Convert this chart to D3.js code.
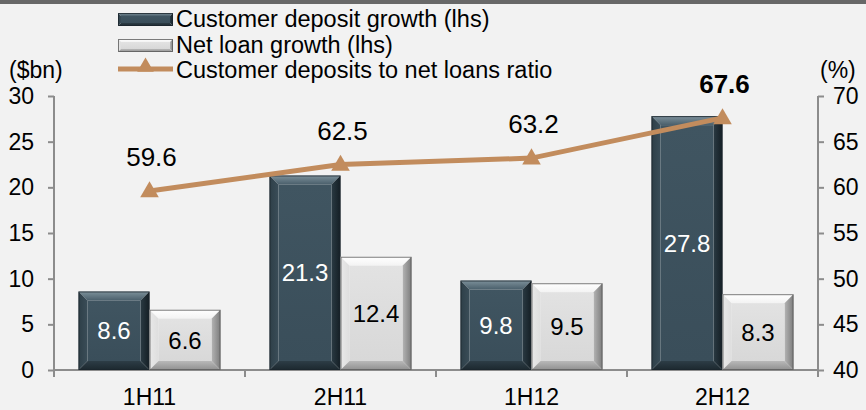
<!DOCTYPE html>
<html><head><meta charset="utf-8">
<script src="https://cdn.jsdelivr.net/npm/d3@7"></script>
<style>
html,body{margin:0;padding:0;background:#f2f2f2;}
svg{display:block;font-family:"Liberation Sans",Arial,sans-serif;}
</style></head>
<body><svg id="c" width="866" height="410"></svg>
<script>
const categories = ["1H11","2H11","1H12","2H12"];
const seriesNames = ["Customer deposit growth (lhs)","Net loan growth (lhs)"];
const depositGrowth = [8.6, 21.3, 9.8, 27.8];
const loanGrowth = [6.6, 12.4, 9.5, 8.3];
const ratio = [59.6, 62.5, 63.2, 67.6];
const lineName = "Customer deposits to net loans ratio";
const leftTicks = [0,5,10,15,20,25,30];
const rightTicks = [40,45,50,55,60,65,70];

const svg = d3.select("#c");
svg.append("rect").attr("width",866).attr("height",410).attr("fill","#f2f2f2");
svg.append("rect").attr("width",866).attr("height",4).attr("fill","#686868");

const L=54, R=818, T=96, B=370;
const x0 = d3.scaleBand().domain(categories).range([L,R]).paddingInner(0).paddingOuter(0);
const x1 = d3.scaleBand().domain([0,1]).range([0,x0.bandwidth()]).paddingInner(0).paddingOuter(0.345);
const yL = d3.scaleLinear().domain([0,30]).range([B,T]);
const yR = d3.scaleLinear().domain([40,70]).range([B,T]);

const defs = svg.append("defs");
function grad(id, stops, vertical=true){
  const g = defs.append("linearGradient").attr("id",id)
    .attr("x1",0).attr("y1",0).attr("x2",vertical?0:1).attr("y2",vertical?1:0);
  stops.forEach(([o,c])=>g.append("stop").attr("offset",o).attr("stop-color",c));
}
grad("dTop",[[0,"#7d919b"],[1,"#4a5f6b"]]);
grad("dFace",[[0,"#405561"],[1,"#3a4e5a"]]);
grad("dLeft",[[0,"#2e3f48"],[1,"#3a4d58"]],false);
grad("dRight",[[0,"#2a3a43"],[1,"#141e24"]],false);
grad("dBot",[[0,"#2d3d46"],[1,"#1c282f"]]);
grad("lTop",[[0,"#ffffff"],[1,"#f3f3f3"]]);
grad("lFace",[[0,"#e2e2e2"],[1,"#d8d8d8"]]);
grad("lLeft",[[0,"#e9e9e9"],[1,"#dedede"]],false);
grad("lRight",[[0,"#b4b4b4"],[1,"#7c7c7c"]],false);
grad("lBot",[[0,"#b8b8b8"],[1,"#909090"]]);

const styles = [
  {top:"url(#dTop)",face:"url(#dFace)",left:"url(#dLeft)",right:"url(#dRight)",bot:"url(#dBot)",stroke:"#1b262d",text:"#ffffff"},
  {top:"url(#lTop)",face:"url(#lFace)",left:"url(#lLeft)",right:"url(#lRight)",bot:"url(#lBot)",stroke:"#5a5a5a",text:"#000000"}
];

function bevelBar(g, xa, xb, ya, yb, b, st){
  const pts = a=>a.map(p=>p.join(",")).join(" ");
  g.append("polygon").attr("points",pts([[xa,ya],[xb,ya],[xb-b,ya+b],[xa+b,ya+b]])).attr("fill",st.top);
  g.append("polygon").attr("points",pts([[xa,ya],[xa+b,ya+b],[xa+b,yb-b],[xa,yb]])).attr("fill",st.left);
  g.append("polygon").attr("points",pts([[xb,ya],[xb,yb],[xb-b,yb-b],[xb-b,ya+b]])).attr("fill",st.right);
  g.append("polygon").attr("points",pts([[xa,yb],[xa+b,yb-b],[xb-b,yb-b],[xb,yb]])).attr("fill",st.bot);
  g.append("rect").attr("x",xa+b).attr("y",ya+b).attr("width",Math.max(0,xb-xa-2*b)).attr("height",Math.max(0,yb-ya-2*b)).attr("fill",st.face);
  g.append("rect").attr("x",xa+0.5).attr("y",ya+0.5).attr("width",xb-xa-1).attr("height",yb-ya-1)
    .attr("fill","none").attr("stroke",st.stroke).attr("stroke-width",1).attr("stroke-opacity",0.8);
}

// axes
const axisColor = "#8c8c8c";
const gl = svg.append("g").attr("transform",`translate(${L},0)`)
  .call(d3.axisLeft(yL).tickValues(leftTicks).tickSize(6).tickPadding(14).tickFormat(d3.format("d")));
const gr = svg.append("g").attr("transform",`translate(${R},0)`)
  .call(d3.axisRight(yR).tickValues(rightTicks).tickSize(6).tickPadding(9).tickFormat(d3.format("d")));
const gb = svg.append("g").attr("transform",`translate(0,${B})`)
  .call(d3.axisBottom(x0).tickSize(0).tickPadding(19));
[gl,gr,gb].forEach(g=>{
  g.select(".domain").attr("stroke",axisColor).attr("stroke-width",2);
  g.selectAll(".tick line").attr("stroke",axisColor).attr("stroke-width",2);
  g.selectAll("text").attr("fill","#000").attr("font-size",23).attr("font-family","Liberation Sans, Arial, sans-serif");
});
gl.select(".domain").attr("d",`M0,${T}V${B}`);
gr.select(".domain").attr("d",`M0,${T}V${B}`);
gb.select(".domain").attr("d",`M${L},0H${R}`);
gb.selectAll("text").attr("font-size",23).attr("dy","0.71em");
const bounds = categories.map(c=>x0(c)).concat([R]);
gb.selectAll(".btick").data(bounds).enter().append("line").attr("class","btick")
  .attr("x1",d=>d).attr("x2",d=>d).attr("y1",0).attr("y2",7).attr("stroke",axisColor).attr("stroke-width",2);

// bars
const barsG = svg.append("g");
const seriesData = [depositGrowth, loanGrowth];
seriesData.forEach((vals,si)=>{
  vals.forEach((v,i)=>{
    const xa = x0(categories[i]) + x1(si);
    const xb = xa + x1.bandwidth();
    const ya = yL(v), yb = yL(0);
    const g = barsG.append("g");
    bevelBar(g, xa, xb, ya, yb, 9, styles[si]);
    barsG.append("text").attr("x",(xa+xb)/2).attr("y",(ya+yb)/2).attr("dy","0.36em")
      .attr("text-anchor","middle").attr("font-size",24).attr("fill",styles[si].text).text(v.toFixed(1));
  });
});

// line
const lineColor = "#c28c5d";
const cx = (d,i)=>x0(categories[i]) + x0.bandwidth()/2;
svg.append("path").datum(ratio)
  .attr("d", d3.line().x(cx).y(d=>yR(d)))
  .attr("fill","none").attr("stroke",lineColor).attr("stroke-width",5);
svg.selectAll(".mk").data(ratio).enter().append("path")
  .attr("d", d3.symbol(d3.symbolTriangle, 150))
  .attr("transform",(d,i)=>`translate(${cx(d,i)},${yR(d)+1})`)
  .attr("fill",lineColor);
svg.selectAll(".rl").data(ratio).enter().append("text")
  .attr("x",(d,i)=>cx(d,i)+2).attr("y",d=>yR(d)-25)
  .attr("text-anchor","middle").attr("font-size",26)
  .attr("font-weight",(d,i)=>i===ratio.length-1?"bold":"normal")
  .attr("fill","#000").text(d=>d.toFixed(1));

// axis titles
svg.append("text").attr("x",9).attr("y",78).attr("font-size",23).text("($bn)");
svg.append("text").attr("x",820).attr("y",78).attr("font-size",23).text("(%)");

// legend
const legend = svg.append("g");
const rows = [
  {name:seriesNames[0], type:"bar", st:styles[0], y:13},
  {name:seriesNames[1], type:"bar", st:styles[1], y:39},
  {name:lineName, type:"line", y:64}
];
rows.forEach(r=>{
  if(r.type==="bar"){
    bevelBar(legend.append("g"), 118, 173, r.y, r.y+13, 3, r.st);
  } else {
    legend.append("line").attr("x1",118).attr("x2",173).attr("y1",r.y+5).attr("y2",r.y+5)
      .attr("stroke",lineColor).attr("stroke-width",5);
    legend.append("path").attr("d",d3.symbol(d3.symbolTriangle,120))
      .attr("transform",`translate(145.5,${r.y+3})`).attr("fill",lineColor);
  }
  legend.append("text").attr("x",176).attr("y",r.y+14)
    .attr("font-size",23.5).attr("fill","#000").text(r.name);
});
</script></body></html>
